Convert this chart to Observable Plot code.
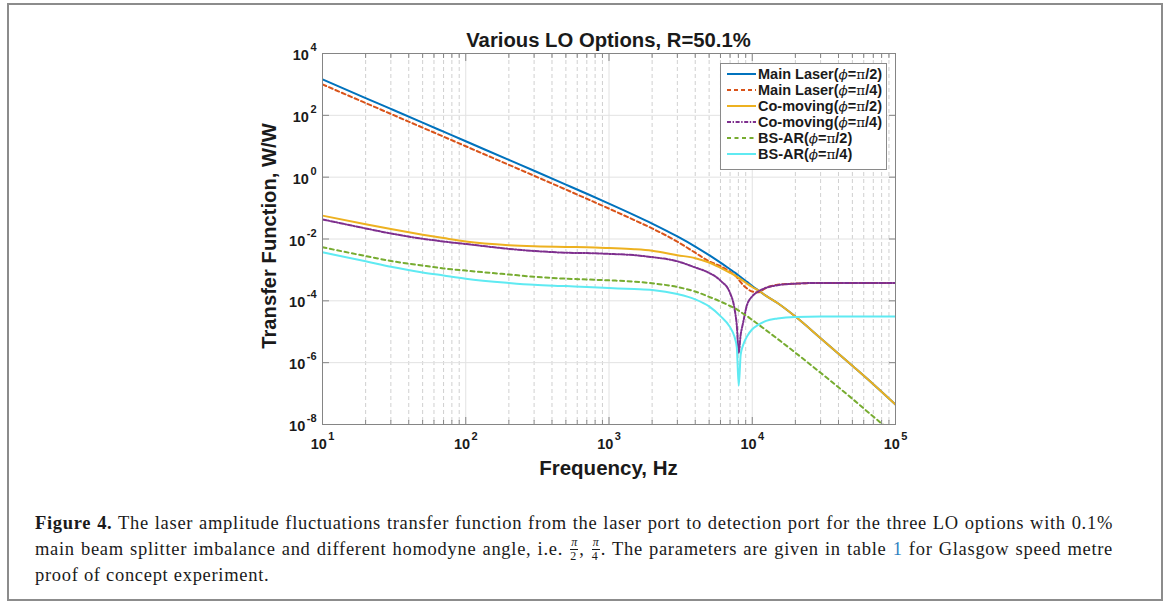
<!DOCTYPE html>
<html>
<head>
<meta charset="utf-8">
<script src="https://cdn.jsdelivr.net/npm/d3@7"></script>
<script src="https://cdn.jsdelivr.net/npm/@observablehq/plot@0.6"></script>
<style>
  body { margin: 0; background: #fff; }
  #page { position: relative; width: 1170px; height: 610px; overflow: hidden; background: #fff; font-family: "Liberation Sans", Arial, sans-serif; }
  #frame { position: absolute; left: 7px; top: 3px; width: 1152px; height: 594px; border: 2px solid #8c8c8c; }
  #chart { position: absolute; left: 0; top: 0; }
  #chart svg text.tl { font-family: "Liberation Sans", Arial, sans-serif !important; font-weight: bold !important; font-size: 14.5px !important; }
  #chart svg text.tl tspan.sup { font-size: 11px !important; }
  .title { position: absolute; left: 308.5px; width: 600px; top: 30px; line-height: 20px; text-align: center; font-weight: bold; font-size: 20.3px; color: #1a1a1a; }
  .xlabel { position: absolute; left: 408.5px; width: 400px; top: 458px; line-height: 20px; text-align: center; font-weight: bold; font-size: 20.5px; color: #1a1a1a; }
  .ylabel { position: absolute; left: 69px; width: 400px; top: 226px; line-height: 20px; text-align: center; font-weight: bold; font-size: 20.2px; color: #1a1a1a; transform: rotate(-90deg); transform-origin: 200px 10px; }
  #legend { position: absolute; left: 720px; top: 63px; width: 165px; height: 103px; border: 1px solid #8a8a8a; background: #fff; padding-top: 2px; box-sizing: content-box; }
  .lrow { height: 16px; display: flex; align-items: center; font-weight: bold; font-size: 14.5px; color: #1a1a1a; white-space: nowrap; }
  .lrow svg { margin-left: 6px; margin-right: 2px; }
  .sym { font-family: "DejaVu Serif", serif; font-weight: normal; font-size: 13.5px; }
  .caption { position: absolute; left: 35px; width: 1078px; top: 511px; font-family: "Liberation Serif", "Times New Roman", serif; font-size: 18.5px; letter-spacing: 0.7px; line-height: 25.5px; color: #1a1a1a; }
  .caption .just { text-align: justify; text-align-last: justify; white-space: nowrap; }
  .frac { display: inline-block; vertical-align: middle; text-align: center; font-size: 12px; line-height: 11px; margin: 0 1px; position: relative; top: -1px; letter-spacing: 0; }
  .frac span { display: block; }
  .frac .num { border-bottom: 1px solid #1a1a1a; padding: 0 1px 1px 1px; font-style: italic; }
  .frac .den { padding-top: 1px; }
  .link { color: #2f7fc1; }
</style>
</head>
<body>
<div id="page">
  <div id="frame"></div>
  <div id="chart"></div>
  <div class="title">Various LO Options, R=50.1%</div>
  <div class="xlabel">Frequency, Hz</div>
  <div class="ylabel">Transfer Function, W/W</div>
  <div id="legend"></div>
  <div class="caption">
    <div class="just"><b>Figure 4.</b> The laser amplitude fluctuations transfer function from the laser port to detection port for the three LO options with 0.1%</div>
    <div class="just">main beam splitter imbalance and different homodyne angle, i.e. <span class="frac"><span class="num">π</span><span class="den">2</span></span>, <span class="frac"><span class="num">π</span><span class="den">4</span></span>. The parameters are given in table <span class="link">1</span> for Glasgow speed metre</div>
    <div>proof of concept experiment.</div>
  </div>
</div>
<script>
// ---------- data ----------
const freq = [10, 20, 30, 50, 70, 100, 200, 300, 500, 700, 1000, 1500, 2000, 3000, 4000, 5000, 6000, 7000, 7500, 7800, 8050, 8300, 8600, 9200, 10000, 11000, 12500, 15000, 20000, 30000, 50000, 70000, 100000];

const mainLaserPi2 = [1450, 362, 161, 58, 29.6, 14.5, 3.62, 1.61, 0.575, 0.291, 0.140, 0.0595, 0.0316, 0.0121, 0.0057, 0.0030, 0.00173, 0.00105, 0.00084, 0.00073, 0.00066, 0.00059, 0.00052, 0.00041, 0.00030, 0.00022, 0.000145, 0.000085, 0.000031, 0.0000062, 7.9e-7, 2.0e-7, 4.4e-8];

const mainLaserPi4 = [1000, 250, 111, 40, 20.4, 10, 2.5, 1.11, 0.397, 0.200, 0.096, 0.041, 0.022, 0.0082, 0.0036, 0.0019, 0.00132, 0.00087, 0.00069, 0.00059, 0.00048, 0.00040, 0.00033, 0.00025, 0.000200, 0.000190, 0.000265, 0.00033, 0.00036, 0.00038, 0.00038, 0.00038, 0.00038];

const coMovingPi2 = [0.057, 0.030, 0.021, 0.0138, 0.0107, 0.0083, 0.0063, 0.0058, 0.0055, 0.0054, 0.0051, 0.0047, 0.0042, 0.0030, 0.0024, 0.00174, 0.00117, 0.00081, 0.00068, 0.00060, 0.00055, 0.00050, 0.00045, 0.00036, 0.00028, 0.00022, 0.000145, 0.000085, 0.000031, 0.0000062, 7.9e-7, 2.0e-7, 4.4e-8];

const coMovingPi4 = [0.043, 0.022, 0.0151, 0.0102, 0.0083, 0.0069, 0.0048, 0.0041, 0.0036, 0.0035, 0.0033, 0.0030, 0.0026, 0.0019, 0.00120, 0.00080, 0.00045, 0.00018, 0.000060, 0.000016, 0.0000021, 0.0000079, 0.000018, 0.000074, 0.000140, 0.000200, 0.000265, 0.00032, 0.00036, 0.00038, 0.00038, 0.00038, 0.00038];

const bsArPi2 = [0.0054, 0.0028, 0.00195, 0.00138, 0.00112, 0.00095, 0.00071, 0.00060, 0.00052, 0.00049, 0.00046, 0.00042, 0.00037, 0.00028, 0.00020, 0.000135, 0.000095, 0.000068, 0.000058, 0.000053, 0.000048, 0.000044, 0.000039, 0.000032, 0.000024, 0.0000174, 0.0000112, 0.0000059, 0.0000021, 4.7e-7, 6.8e-8, 1.8e-8, 4.6e-9];

const bsArPi4 = [0.0037, 0.0019, 0.00126, 0.00083, 0.00066, 0.00052, 0.00038, 0.00033, 0.00030, 0.00028, 0.00026, 0.00024, 0.000224, 0.000166, 0.000112, 0.000066, 0.000032, 0.0000141, 0.0000071, 0.0000032, 0.00000018, 0.0000018, 0.0000035, 0.0000071, 0.0000120, 0.0000166, 0.0000224, 0.0000269, 0.0000302, 0.0000309, 0.0000309, 0.0000309, 0.0000309];

const seriesNames = ["Main Laser(ϕ=π/2)", "Main Laser(ϕ=π/4)", "Co-moving(ϕ=π/2)", "Co-moving(ϕ=π/4)", "BS-AR(ϕ=π/2)", "BS-AR(ϕ=π/4)"];
const legendBase = ["Main Laser", "Main Laser", "Co-moving", "Co-moving", "BS-AR", "BS-AR"];
const legendAngle = ["2", "4", "2", "4", "2", "4"];
const seriesValues = [mainLaserPi2, mainLaserPi4, coMovingPi2, coMovingPi4, bsArPi2, bsArPi4];
const seriesColors = ["#0072BD", "#D95319", "#EDB120", "#7E2F8E", "#77AC30", "#5FEAF2"];
const seriesDash = [null, "4,3", null, "4,1.6,1.4,1.6", "4,3.5", null];

const xMajorTicks = [10, 100, 1000, 10000, 100000];
const xMinorTicks = [20, 30, 40, 50, 60, 70, 80, 90, 200, 300, 400, 500, 600, 700, 800, 900, 2000, 3000, 4000, 5000, 6000, 7000, 8000, 9000, 20000, 30000, 40000, 50000, 60000, 70000, 80000, 90000];
const yMajorTicks = [1e4, 1e2, 1, 1e-2, 1e-4, 1e-6, 1e-8];
const xTickExponents = ["1", "2", "3", "4", "5"];
const yTickExponents = ["4", "2", "0", "-2", "-4", "-6", "-8"];

// ---------- build ----------
const lineMarks = seriesNames.map((name, i) => {
  const rows = freq.map((f, j) => ({f, v: seriesValues[i][j], s: name}));
  return Plot.line(rows, {x: "f", y: "v", stroke: seriesColors[i], strokeWidth: 2, strokeDasharray: seriesDash[i], curve: "monotone-x", clip: true});
});

const fmtX = d => "10^" + xTickExponents[xMajorTicks.indexOf(d)];
const fmtY = d => "10^" + yTickExponents[yMajorTicks.indexOf(d)];
const axisText = {fill: "#1a1a1a", label: null, tickSize: 0};
const tickStyle = {tickFormat: () => "", stroke: "#858585", label: null};

const chart = Plot.plot({
  width: 1170,
  height: 490,
  marginLeft: 322,
  marginRight: 275,
  marginTop: 53,
  marginBottom: 66,
  x: {type: "log", domain: [10, 1e5], label: null},
  y: {type: "log", domain: [1e-8, 1e4], label: null},
  style: {fontFamily: "'Liberation Sans', Arial, sans-serif", color: "#1a1a1a", background: "transparent", overflow: "visible"},
  marks: [
    Plot.gridX(xMinorTicks, {stroke: "#c4c4c4", strokeOpacity: 0.8, strokeDasharray: "4,3"}),
    Plot.gridX(xMajorTicks, {stroke: "#e2e2e2", strokeOpacity: 1}),
    Plot.gridY(yMajorTicks, {stroke: "#e2e2e2", strokeOpacity: 1}),
    ...lineMarks,
    Plot.frame({stroke: "#858585"}),
    Plot.axisX(xMajorTicks, {anchor: "bottom", tickSize: -7, ...tickStyle}),
    Plot.axisX(xMajorTicks, {anchor: "top", tickSize: -7, ...tickStyle}),
    Plot.axisX(xMinorTicks, {anchor: "bottom", tickSize: -4, ...tickStyle}),
    Plot.axisX(xMinorTicks, {anchor: "top", tickSize: -4, ...tickStyle}),
    Plot.axisY(yMajorTicks, {anchor: "left", tickSize: -7, ...tickStyle}),
    Plot.axisY(yMajorTicks, {anchor: "right", tickSize: -7, ...tickStyle}),
    Plot.axisX(xMajorTicks, {anchor: "bottom", tickPadding: 14, tickFormat: fmtX, ...axisText}),
    Plot.axisY(yMajorTicks, {anchor: "left", tickPadding: 6, tickFormat: fmtY, ...axisText})
  ]
});

// superscripts for "10^n" labels
d3.select(chart).selectAll('g[aria-label="y-axis tick label"] text').classed("ylab", true);
d3.select(chart).selectAll("text").each(function () {
  const s = this.textContent;
  if (!s || s.indexOf("^") < 0) return;
  const [b, e] = s.split("^");
  const t = d3.select(this);
  const isY = t.classed("ylab");
  t.text(null).classed("tl", true)
    .attr("font-size", 14.5).attr("font-weight", "bold");
  t.append("tspan").attr("class", "base").attr("dy", isY ? 2 : 0).text(b);
  t.append("tspan").attr("class", "sup").attr("dx", 1.5).attr("dy", "-9px").attr("font-size", 11).text(e);
});

document.getElementById("chart").appendChild(chart);

// legend
const legend = d3.select("#legend");
seriesNames.forEach((name, i) => {
  const row = legend.append("div").attr("class", "lrow");
  const svg = row.append("svg").attr("width", 29).attr("height", 6);
  svg.append("line").attr("x1", 0).attr("x2", 29).attr("y1", 3).attr("y2", 3)
    .attr("stroke", seriesColors[i]).attr("stroke-width", 2).attr("stroke-dasharray", seriesDash[i]);
  const lab = row.append("span");
  lab.append("span").text(legendBase[i] + "(");
  lab.append("span").attr("class", "sym").style("font-style", "italic").text("ϕ");
  lab.append("span").text("=");
  lab.append("span").attr("class", "sym").text("π");
  lab.append("span").text("/" + legendAngle[i] + ")");
});
</script>
</body>
</html>
